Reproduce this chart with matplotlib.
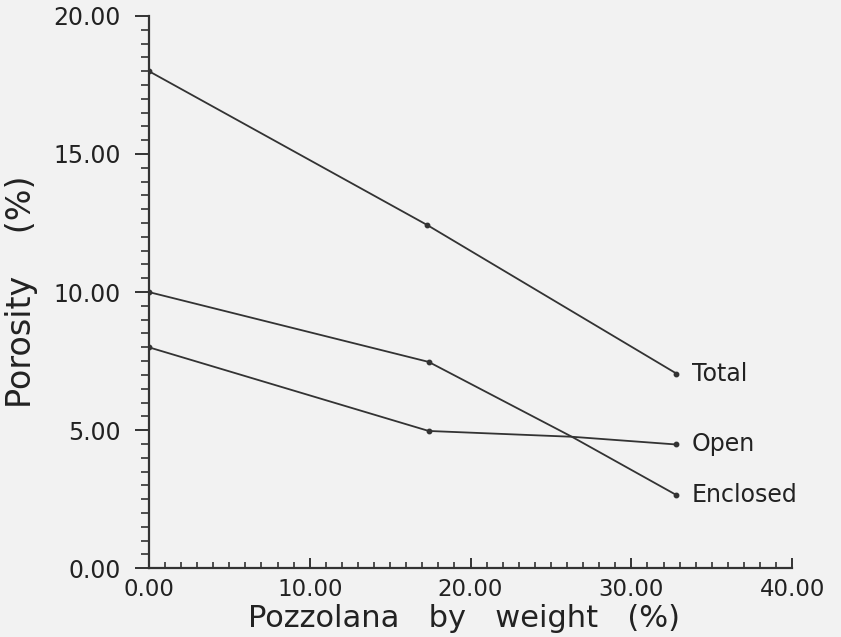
import numpy as np
import matplotlib
matplotlib.use('Agg')
import matplotlib.pyplot as plt
from matplotlib.ticker import MultipleLocator, FormatStrFormatter

# Data
x_total = [0.0, 17.3, 32.8]
y_total = [18.0, 12.43, 7.05]

x_open = [0.0, 17.4, 26.3, 32.8]
y_open = [8.0, 4.97, 4.76, 4.48]

x_encl = [0.0, 17.4, 26.3, 32.8]
y_encl = [10.0, 7.47, 4.76, 2.65]

end_labels = ['Total', 'Open', 'Enclosed']

bg = '#f2f2f2'
ink = '#333333'

plt.rcParams['font.family'] = ['DejaVu Sans']

fig = plt.figure(figsize=(8.41, 6.37), dpi=100, facecolor=bg)
ax = fig.add_axes([0.177, 0.108, 0.765, 0.867])
ax.set_facecolor(bg)

series = [(x_total, y_total), (x_open, y_open), (x_encl, y_encl)]
for (xs, ys), name in zip(series, end_labels):
    ax.plot(xs, ys, color=ink, lw=1.3)
    # dots at measured points (crossing point has no dot)
    mx = [xs[i] for i in range(len(xs)) if xs[i] != 26.3]
    my = [ys[i] for i in range(len(xs)) if xs[i] != 26.3]
    ax.plot(mx, my, 'o', color=ink, ms=3.2)
    ax.annotate(name, (xs[-1], ys[-1]), xytext=(11, 0), textcoords='offset points',
                va='center', ha='left', fontsize=17, color='#222222')

ax.set_xlim(0, 40)
ax.set_ylim(0, 20)

for s in ['top', 'right']:
    ax.spines[s].set_visible(False)
for s in ['left', 'bottom']:
    ax.spines[s].set_color(ink)
    ax.spines[s].set_linewidth(1.6)

ax.xaxis.set_major_locator(MultipleLocator(10))
ax.xaxis.set_minor_locator(MultipleLocator(1))
ax.yaxis.set_major_locator(MultipleLocator(5))
ax.yaxis.set_minor_locator(MultipleLocator(0.5))
ax.xaxis.set_major_formatter(FormatStrFormatter('%.2f'))
ax.yaxis.set_major_formatter(FormatStrFormatter('%.2f'))

ax.tick_params(axis='x', which='major', direction='in', length=7, width=1.4,
               pad=7, labelsize=16.5, colors=ink)
ax.tick_params(axis='x', which='minor', direction='in', length=4, width=1.2, colors=ink)
ax.tick_params(axis='y', which='major', direction='out', length=10, width=1.4,
               pad=10, labelsize=17, colors=ink)
ax.tick_params(axis='y', which='minor', direction='out', length=6, width=1.2, colors=ink)
for lbl in ax.get_xticklabels() + ax.get_yticklabels():
    lbl.set_color('#222222')

ax.set_xlabel('Pozzolana   by   weight   (%)', fontsize=22, color='#222222')
ax.set_ylabel('Porosity    (%)', fontsize=24, color='#222222')
ax.xaxis.set_label_coords(0.49, -0.064)
ax.yaxis.set_label_coords(-0.172, 0.5)

fig.savefig('out.png', dpi=100, facecolor=bg)
